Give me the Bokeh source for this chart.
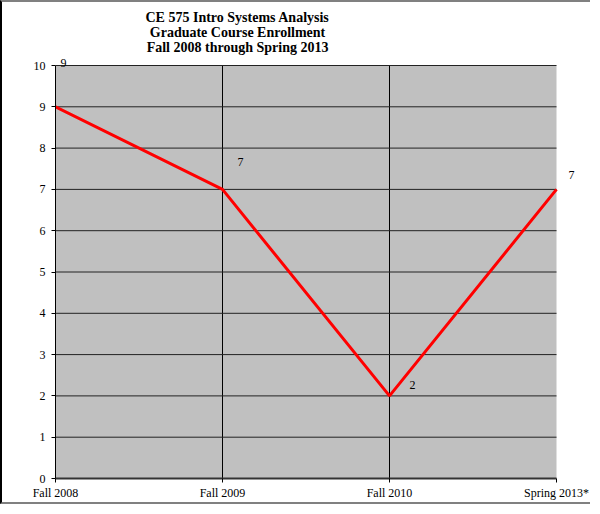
from bokeh.plotting import figure
from bokeh.models import Range1d, FixedTicker, Label
from bokeh.embed import file_html
from bokeh.resources import INLINE

categories = ["Fall 2008", "Fall 2009", "Fall 2010", "Spring 2013*"]
enrollment = [9, 7, 2, 7]
y_ticks = [0, 1, 2, 3, 4, 5, 6, 7, 8, 9, 10]
title_lines = ["CE 575 Intro Systems Analysis",
               "Graduate Course Enrollment",
               "Fall 2008 through Spring 2013"]

# style: pixel offsets of the value labels
label_offsets = [(8, 44), (18, 27), (23, 11), (15, 14)]

FONT = "Liberation Serif"

xs = list(range(len(categories)))
x_max = len(categories) - 1
y_max = max(y_ticks)

W, H = 590, 504
left, bottom = 53, 28
plot_w = 501   # pixels for the category span
plot_h = 413   # pixels for the 0..10 span
frame_w = W - left
frame_h = H - bottom
x_end = x_max * frame_w / plot_w
y_end = y_max * frame_h / plot_h

p = figure(width=W, height=H, output_backend="svg", toolbar_location=None,
           x_range=Range1d(0, x_end), y_range=Range1d(0, y_end),
           min_border_left=left, min_border_right=0, min_border_top=0,
           min_border_bottom=bottom)

p.background_fill_color = "white"
p.border_fill_color = "white"
p.outline_line_color = None
p.xgrid.visible = False
p.ygrid.visible = False

# plot area background
p.quad(left=[0], right=[x_max], bottom=[0], top=[y_max],
       fill_color="#C0C0C0", line_color=None)

# grid lines of the plot area
p.segment(x0=xs[1:-1], y0=[0] * (len(xs) - 2), x1=xs[1:-1], y1=[y_max] * (len(xs) - 2),
          line_color="black", line_width=1)
p.segment(x0=[0] * (len(y_ticks) - 1), y0=y_ticks[1:], x1=[x_max] * (len(y_ticks) - 1),
          y1=y_ticks[1:], line_color="#222222", line_width=1)

p.line(xs, enrollment, line_color="#FF0000", line_width=3)

p.xaxis.ticker = FixedTicker(ticks=xs)
p.xaxis.major_label_overrides = {i: c for i, c in enumerate(categories)}
p.yaxis.ticker = FixedTicker(ticks=y_ticks)
p.xaxis.bounds = (0, x_max)
p.yaxis.bounds = (0, y_max)
for ax in (p.xaxis, p.yaxis):
    ax.major_label_text_font = FONT
    ax.major_label_text_font_size = "12px"
    ax.major_label_text_color = "black"
    ax.axis_line_color = "black"
    ax.major_tick_line_color = "black"
    ax.major_tick_in = 0
    ax.major_tick_out = 4
    ax.minor_tick_line_color = None
p.xaxis.axis_line_width = 2
p.xaxis.axis_line_color = "#333333"
p.xaxis.major_label_standoff = 3
p.yaxis.major_label_standoff = 6

for i, (v, (dx, dy)) in enumerate(zip(enrollment, label_offsets)):
    p.add_layout(Label(x=xs[i], y=v, text=str(v), x_offset=dx, y_offset=dy,
                       text_font=FONT, text_font_size="12px", text_color="black",
                       text_align="center", text_baseline="middle"))

title_offsets = [48, 33, 18]
for line, off in zip(title_lines, title_offsets):
    p.add_layout(Label(x=1.09, y=y_max, text=line, y_offset=off,
                       text_font=FONT, text_font_size="14px", text_font_style="bold",
                       text_color="black", text_align="center", text_baseline="middle"))

p.styles = {"border-top": "2px solid #808080", "border-bottom": "2px solid #808080",
            "border-left": "2px solid black"}

open("out.html", "w").write(file_html(p, INLINE))
